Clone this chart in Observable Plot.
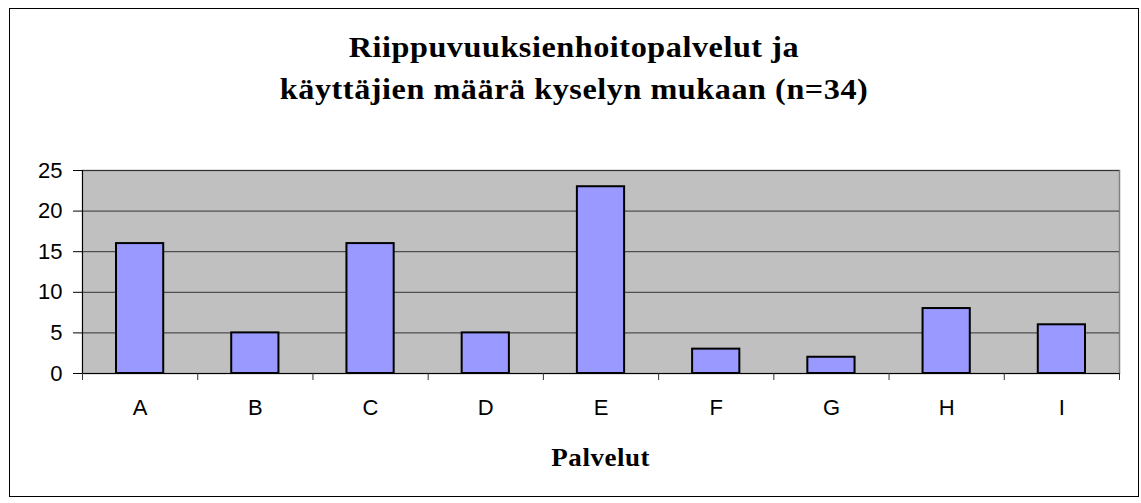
<!DOCTYPE html>
<html>
<head>
<meta charset="utf-8">
<script src="https://cdn.jsdelivr.net/npm/d3@7"></script>
<script src="https://cdn.jsdelivr.net/npm/@observablehq/plot@0.6"></script>
<style>
  html, body { margin: 0; padding: 0; background: #fff; }
  #wrap { position: relative; width: 1141px; height: 503px; overflow: hidden; background: #fff; }
  #border { position: absolute; left: 9px; top: 8px; width: 1130px; height: 489px; box-sizing: border-box; border: 1px solid #000; }
  #chart { position: absolute; left: 0; top: 0; }
  .title { position: absolute; left: 9px; width: 1130px; text-align: center; font-family: "Liberation Serif", "Times New Roman", serif; font-weight: bold; color: #000; white-space: nowrap; }
  .title span { display: inline-block; transform: scaleX(1.11); transform-origin: center; }
  #t1 { top: 26px; font-size: 29px; line-height: 42px; letter-spacing: 0.5px; }
  #t2 { top: 68px; font-size: 29px; line-height: 42px; letter-spacing: 0.5px; }
  #xlabel { position: absolute; left: 82px; width: 1037px; top: 443px; text-align: center; font-family: "Liberation Serif", "Times New Roman", serif; font-weight: bold; font-size: 25px; line-height: 30px; letter-spacing: 0.5px; }
  #xlabel span { display: inline-block; transform: scaleX(1.08); transform-origin: center; }
</style>
</head>
<body>
<div id="wrap">
  <div id="border"></div>
  <div id="chart"></div>
  <div class="title" id="t1"><span>Riippuvuuksienhoitopalvelut ja</span></div>
  <div class="title" id="t2"><span>käyttäjien määrä kyselyn mukaan (n=34)</span></div>
  <div id="xlabel"><span>Palvelut</span></div>
</div>
<script>
const categories = ["A", "B", "C", "D", "E", "F", "G", "H", "I"];
const values = [16, 5, 16, 5, 23, 3, 2, 8, 6];
const yTicks = [0, 5, 10, 15, 20, 25];

const data = categories.map((c, i) => ({category: c, value: values[i], i}));
const boundaries = d3.range(categories.length + 1);
const centers = categories.map((c, i) => i + 0.5);

const chart = Plot.plot({
  width: 1141,
  height: 503,
  marginLeft: 82,
  marginRight: 22,
  marginTop: 170,
  marginBottom: 130,
  style: {fontFamily: "'Liberation Sans', Arial, sans-serif", fontSize: "22px", color: "#000", background: "transparent"},
  x: {type: "linear", domain: [0, categories.length], axis: null},
  y: {domain: [0, 25], axis: null},
  marks: [
    Plot.frame({fill: "#c0c0c0", stroke: "#808080", strokeWidth: 1.5}),
    Plot.ruleY(yTicks, {stroke: "#333", strokeWidth: 1}),
    Plot.rectY(data, {x1: d => d.i, x2: d => d.i + 1, y: "value", fill: "#9999ff", stroke: "#000", strokeWidth: 2, insetLeft: 34, insetRight: 34}),
    Plot.ruleX([0], {stroke: "#000", strokeWidth: 1}),
    Plot.ruleY([0], {stroke: "#000", strokeWidth: 1}),
    Plot.axisY({ticks: yTicks, tickSize: 9, tickPadding: 11, tickFormat: d => String(d), fontSize: 22, label: null}),
    Plot.axisX({ticks: boundaries, tickSize: 7, tickFormat: () => "", stroke: "#333", label: null}),
    Plot.axisX({ticks: centers, tickSize: 0, tickPadding: 26, tickFormat: v => categories[Math.floor(v)], fontSize: 22, label: null})
  ]
});
document.getElementById("chart").appendChild(chart);
</script>
</body>
</html>
